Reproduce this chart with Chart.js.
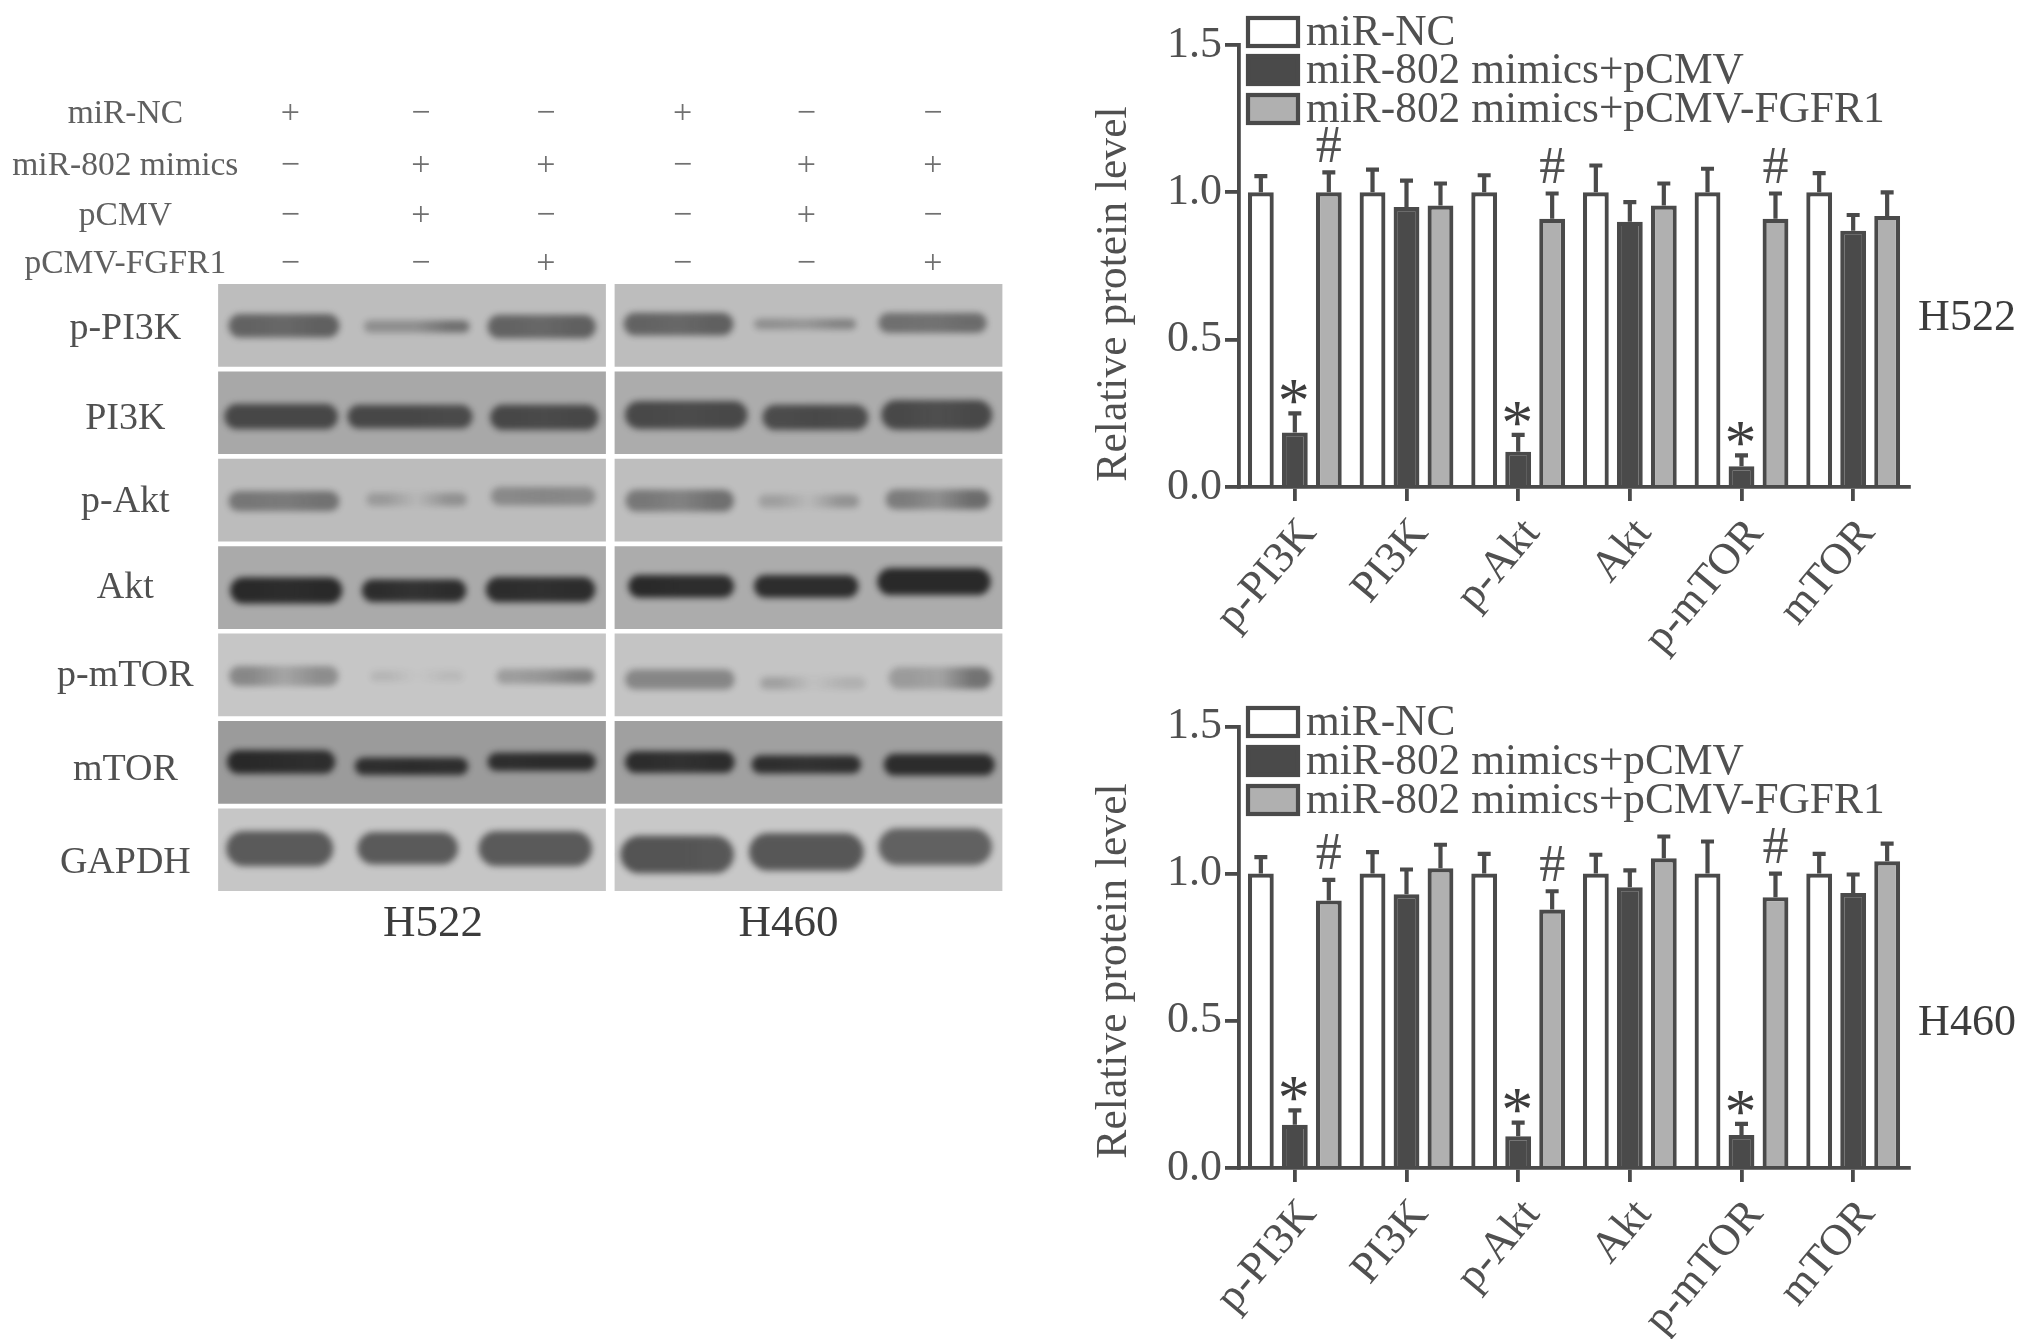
<!DOCTYPE html>
<html>
<head>
<meta charset="utf-8">
<title>miR-802 western blot and protein levels</title>
<script src="https://cdn.jsdelivr.net/npm/chart.js@4"></script>
<style>
    html, body { margin: 0; background: #fff; }
    canvas { position: absolute; filter: blur(0.6px); }
</style>
</head>
<body>
<canvas id="blot" style="left:0;top:0" width="1040" height="1000"></canvas>
<canvas id="graficoH522" style="left:1080px;top:0" width="951" height="670"></canvas>
<canvas id="graficoH460" style="left:1080px;top:680px" width="951" height="659"></canvas>
<script>
// bar charts
const categories = ["p-PI3K", "PI3K", "p-Akt", "Akt", "p-mTOR", "mTOR"];
const seriesNames = ["miR-NC", "miR-802 mimics+pCMV", "miR-802 mimics+pCMV-FGFR1"];

const h522Nc = [1, 1, 1, 1, 1, 1];
const h522NcErr = [0.055, 0.077, 0.058, 0.091, 0.08, 0.065];
const h522Mimics = [0.185, 0.95, 0.12, 0.90, 0.07, 0.87];
const h522MimicsErr = [0.065, 0.09, 0.057, 0.067, 0.037, 0.053];
const h522Fgfr1 = [1.0, 0.955, 0.91, 0.955, 0.91, 0.92];
const h522Fgfr1Err = [0.068, 0.075, 0.086, 0.075, 0.086, 0.08];

const h460Nc = [1, 1, 1, 1, 1, 1];
const h460NcErr = [0.056, 0.073, 0.067, 0.064, 0.109, 0.067];
const h460Mimics = [0.147, 0.93, 0.108, 0.954, 0.112, 0.934];
const h460MimicsErr = [0.049, 0.084, 0.046, 0.057, 0.038, 0.063];
const h460Fgfr1 = [0.909, 1.018, 0.878, 1.052, 0.92, 1.042];
const h460Fgfr1Err = [0.07, 0.08, 0.062, 0.074, 0.08, 0.06];

const starMarks = ["*", "", "*", "", "*", ""];
const hashMarks = ["#", "", "#", "", "#", ""];

// blot: treatment table
const blotLines = ["H522", "H460"];
const treatmentNames = ["miR-NC", "miR-802 mimics", "pCMV", "pCMV-FGFR1"];
const miRNC = ["+", "−", "−", "+", "−", "−"];
const miR802 = ["−", "+", "+", "−", "+", "+"];
const pCMV = ["−", "+", "−", "−", "+", "−"];
const pCMVFGFR1 = ["−", "−", "+", "−", "−", "+"];

// blot: one list per antibody, one entry per band
// [lane, row position, length in lanes, thickness in rows, density left, middle, right]
const proteins = ["p-PI3K", "PI3K", "p-Akt", "Akt", "p-mTOR", "mTOR", "GAPDH"];
const bandsPPI3K = [
    [0, .48, .86, .27, .58, .55, .6], [1.03, .49, .82, .14, .3, .3, .5], [2, .49, .84, .27, .58, .55, .6],
    [3.06, .46, .85, .26, .58, .55, .6], [4.04, .46, .79, .12, .3, .25, .38], [5.03, .45, .84, .23, .5, .48, .52]
];
const bandsPI3K = [
    [-.02, .52, .88, .29, .72, .72, .72], [.98, .52, .97, .27, .72, .72, .7], [2.02, .53, .84, .29, .72, .7, .72],
    [3.12, .5, .95, .32, .72, .7, .72], [4.12, .53, .82, .29, .7, .72, .7], [5.06, .5, .86, .34, .72, .68, .72]
];
const bandsPAkt = [
    [0, .49, .86, .23, .45, .42, .48], [1.03, .47, .78, .15, .22, .03, .28], [2.01, .43, .81, .21, .33, .35, .33],
    [3.07, .48, .84, .25, .45, .38, .5], [4.07, .49, .78, .15, .2, .03, .28], [5.07, .47, .81, .23, .42, .3, .52]
];
const bandsAkt = [
    [.02, .51, .87, .3, .95, .92, .95], [1.01, .51, .81, .26, .92, .88, .92], [1.99, .5, .85, .29, .92, .9, .92],
    [3.08, .46, .82, .26, .95, .92, .92], [4.05, .46, .81, .26, .92, .92, .92], [5.04, .41, .88, .31, .95, .95, .95]
];
const bandsPMTOR = [
    [0, .49, .85, .23, .38, .2, .34], [1.03, .49, .72, .12, .1, 0, .08], [2.03, .49, .76, .17, .25, .3, .42],
    [3.07, .53, .85, .23, .38, .38, .38], [4.1, .57, .82, .14, .22, .02, .12], [5.09, .51, .8, .25, .25, .2, .5]
];
const bandsMTOR = [
    [-.02, .47, .84, .27, .95, .92, .9], [.99, .52, .88, .2, .9, .92, .9], [2, .47, .84, .21, .9, .92, .92],
    [3.07, .47, .85, .25, .92, .88, .92], [4.05, .5, .85, .21, .9, .88, .9], [5.08, .5, .86, .25, .92, .92, .92]
];
const bandsGAPDH = [
    [-.03, .46, .83, .4, .66, .66, .66], [.96, .46, .78, .37, .66, .66, .66], [1.95, .46, .88, .4, .66, .66, .66],
    [3.05, .53, .88, .43, .7, .7, .68], [4.05, .5, .89, .43, .68, .68, .68], [5.05, .44, .88, .42, .62, .62, .62]
];
const panelShades = [[189, 189], [168, 172], [188, 190], [170, 172], [198, 196], [155, 160], [198, 200]];

const INK = "#4a4a4a";
const TEXT = "#505050";
const SERIF = "'Liberation Serif'";

Chart.defaults.font.family = SERIF;
Chart.defaults.animation = false;
Chart.defaults.events = [];
Chart.defaults.plugins.legend.display = false;
Chart.defaults.plugins.tooltip.enabled = false;

function texto(ctx, str, x, y, size, color, align) {
    ctx.save();
    ctx.font = size + "px " + SERIF;
    ctx.fillStyle = color;
    ctx.textAlign = align || "center";
    ctx.textBaseline = "middle";
    ctx.fillText(str, x, y);
    ctx.restore();
}

// error bars + significance marks + legend + axis title + side label
const decoracao = {
    id: "decoracao",
    afterDatasetsDraw(chart, args, opts) {
        const ctx = chart.ctx;
        const y = chart.scales.y;
        chart.data.datasets.forEach((ds, d) => {
            const meta = chart.getDatasetMeta(d);
            ds.erros.forEach((err, i) => {
                const bar = meta.data[i];
                const topo = y.getPixelForValue(ds.data[i] + err);
                ctx.save();
                ctx.strokeStyle = INK;
                ctx.lineWidth = 4.2;
                ctx.beginPath();
                ctx.moveTo(bar.x, bar.y);
                ctx.lineTo(bar.x, topo);
                ctx.moveTo(bar.x - 6.5, topo);
                ctx.lineTo(bar.x + 6.5, topo);
                ctx.stroke();
                ctx.restore();
                const marca = ds.marcas && ds.marcas[i];
                if (marca === "*") texto(ctx, "*", bar.x - 1, topo - 8, 64, "#3c3c3c");
                if (marca === "#") texto(ctx, "#", bar.x, topo - 24, 52, TEXT);
            });
        });
        chart.data.datasets.forEach((ds, d) => {
            const cy = opts.legendY[d];
            ctx.save();
            ctx.fillStyle = ds.backgroundColor;
            ctx.strokeStyle = ds.borderColor;
            ctx.lineWidth = 4.2;
            ctx.fillRect(168, cy - 14, 50, 28);
            ctx.strokeRect(168, cy - 14, 50, 28);
            ctx.restore();
            texto(ctx, ds.label, 226, cy + 2, 43.4, TEXT, "left");
        });
        texto(ctx, opts.nome, 887, opts.nomeY, 44, "#3c3c3c");
        ctx.save();
        ctx.translate(35, opts.tituloY);
        ctx.rotate(-Math.PI / 2);
        texto(ctx, "Relative protein level", 0, 0, 43.6, TEXT);
        ctx.restore();
    }
};

function graficoBarras(id, nome, series, topo, base, alturaX, legendY, nomeY, tituloY) {
    const cores = ["#ffffff", INK, "#b0b0b0"];
    return new Chart(document.getElementById(id), {
        type: "bar",
        data: {
            labels: categories,
            datasets: series.map((s, i) => ({
                label: seriesNames[i],
                data: s.valores,
                erros: s.erros,
                marcas: s.marcas,
                backgroundColor: cores[i],
                borderColor: INK,
                borderWidth: 4.2,
                categoryPercentage: 0.913,
                barPercentage: 0.76
            }))
        },
        options: {
            responsive: false,
            layout: { padding: { top: topo, bottom: base, right: 122 } },
            plugins: { decoracao: { legendY, nome, nomeY, tituloY } },
            scales: {
                x: {
                    afterFit: s => { s.height = alturaX; },
                    border: { color: INK, width: 3.8 },
                    grid: { drawOnChartArea: false, offset: false, color: INK, lineWidth: 3.8, tickLength: 14 },
                    ticks: { autoSkip: false, minRotation: 50, maxRotation: 50, padding: 8, labelOffset: 14, color: TEXT, font: { size: 44 } }
                },
                y: {
                    min: 0,
                    max: 1.5,
                    afterFit: s => { s.width = 159; },
                    border: { color: INK, width: 3.8 },
                    grid: { drawOnChartArea: false, color: INK, lineWidth: 3.8, tickLength: 14 },
                    ticks: { stepSize: 0.5, padding: 3, color: TEXT, font: { size: 44 }, callback: v => v.toFixed(1) }
                }
            }
        },
        plugins: [decoracao]
    });
}

graficoBarras("graficoH522", "H522", [
    { valores: h522Nc, erros: h522NcErr },
    { valores: h522Mimics, erros: h522MimicsErr, marcas: starMarks },
    { valores: h522Fgfr1, erros: h522Fgfr1Err, marcas: hashMarks }
], 45, 5, 178, [32, 70, 109], 318, 294);

graficoBarras("graficoH460", "H460", [
    { valores: h460Nc, erros: h460NcErr },
    { valores: h460Mimics, erros: h460MimicsErr, marcas: starMarks },
    { valores: h460Fgfr1, erros: h460Fgfr1Err, marcas: hashMarks }
], 46.4, 0, 171, [42, 81, 120], 343, 291);

// blot band sprite, sized from the two scales
function spriteBanda(ctx) {
    const chart = ctx.chart;
    const b = ctx.raw;
    if (!b) return "circle";
    const w = b.len * (chart.scales.lane.getPixelForValue(1) - chart.scales.lane.getPixelForValue(0));
    const h = b.thick * (chart.scales.y.getPixelForValue(1) - chart.scales.y.getPixelForValue(0));
    if (!isFinite(w) || !isFinite(h)) return "circle";
    const c = document.createElement("canvas");
    c.width = Math.ceil(w) + 24;
    c.height = Math.ceil(h) + 24;
    const g = c.getContext("2d");
    const grad = g.createLinearGradient(12, 0, 12 + w, 0);
    grad.addColorStop(0.2, `rgba(34,34,34,${b.left})`);
    grad.addColorStop(0.5, `rgba(34,34,34,${b.mid})`);
    grad.addColorStop(0.8, `rgba(34,34,34,${b.right})`);
    g.filter = "blur(3px)";
    g.fillStyle = grad;
    g.beginPath();
    g.roundRect(12, 12, w, h, h / 2);
    g.fill();
    return c;
}

const linhasBlot = [bandsPPI3K, bandsPI3K, bandsPAkt, bandsAkt, bandsPMTOR, bandsMTOR, bandsGAPDH];
const linhasTratamento = [miRNC, miR802, pCMV, pCMVFGFR1];
const tratamentoY = [-1.94, -1.345, -0.775, -0.225];
const colunasMarca = [0.05, 1.06, 2.03, 3.09, 4.05, 5.03];
const rotuloY = [0.52, 1.54, 2.49, 3.48, 4.49, 5.56, 6.62];

const rotulosBlot = {
    id: "rotulosBlot",
    afterDatasetsDraw(chart) {
        const ctx = chart.ctx;
        const { lane, y } = chart.scales;
        const xRotulo = lane.getPixelForValue(-1.23);
        treatmentNames.forEach((nome, t) => {
            const py = y.getPixelForValue(tratamentoY[t]);
            texto(ctx, nome, xRotulo, py, 33.5, "#606060");
            linhasTratamento[t].forEach((sinal, i) => {
                texto(ctx, sinal, lane.getPixelForValue(colunasMarca[i]), py, 34, "#707070");
            });
        });
        proteins.forEach((nome, r) => {
            texto(ctx, nome, xRotulo, y.getPixelForValue(rotuloY[r]), 38, "#505050");
        });
        texto(ctx, blotLines[0], chart.scales.x.getPixelForValue(0) + 21, y.getPixelForValue(7.33), 45, "#3c3c3c");
        texto(ctx, blotLines[1], chart.scales.x.getPixelForValue(1) - 20, y.getPixelForValue(7.33), 45, "#3c3c3c");
    }
};

new Chart(document.getElementById("blot"), {
    type: "bar",
    data: {
        labels: blotLines,
        datasets: [
            {
                type: "scatter",
                xAxisID: "lane",
                order: 1,
                data: linhasBlot.flatMap((bandas, r) => bandas.map(b => ({
                    x: b[0], y: r + b[1], len: b[2], thick: b[3], left: b[4], mid: b[5], right: b[6]
                }))),
                pointStyle: spriteBanda,
                pointRadius: 3,
                clip: false
            },
            ...proteins.map((nome, r) => ({
                label: nome,
                order: 2,
                grouped: false,
                data: blotLines.map(() => [r, r + 0.946]),
                backgroundColor: panelShades[r].map(v => `rgb(${v},${v},${v})`),
                categoryPercentage: 0.978,
                barPercentage: 1
            }))
        ]
    },
    options: {
        responsive: false,
        layout: { padding: { left: 213.75, right: 33.25, top: 80, bottom: 104.2 } },
        scales: {
            x: { display: false },
            lane: { type: "linear", display: false, offset: false, min: -0.5446, max: 5.603 },
            y: { display: false, reverse: true, min: -2.334, max: 7 }
        }
    },
    plugins: [rotulosBlot]
});
</script>
</body>
</html>
